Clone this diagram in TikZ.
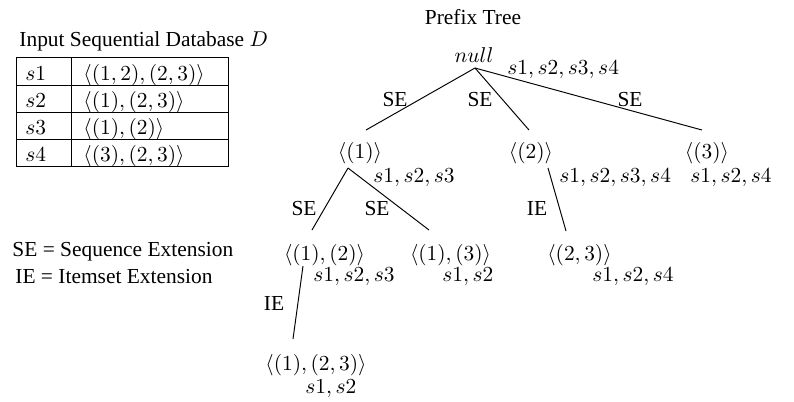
\documentclass[tikz,border=0pt]{standalone}
\usepackage[no-math]{fontspec}
\setmainfont{Liberation Serif}
\begin{document}
\begin{tikzpicture}[x=0.467pt,y=-0.467pt,
  lbl/.style={inner sep=0pt, anchor=base},
  lblw/.style={inner sep=0pt, anchor=base west},
  edge/.style={line width=0.45pt}]
\useasboundingbox (0,0) rectangle (794,401);
% ---- input table
\node[lblw] (title) at (19,46.7) {Input Sequential Database $D$};
\draw[edge] (16,57.7) rectangle (228,166.7);
\draw[edge] (16,85) -- (228,85) (16,112.3) -- (228,112.3) (16,139.5) -- (228,139.5);
\draw[edge] (71,57.7) -- (71,166.7);
\node[lblw] (r1a) at (25,80) {$s1$};
\node[lblw] (r1b) at (83,80) {$\langle(1,2),(2,3)\rangle$};
\node[lblw] (r2a) at (25,107.3) {$s2$};
\node[lblw] (r2b) at (83,107.3) {$\langle(1),(2,3)\rangle$};
\node[lblw] (r3a) at (25,134.6) {$s3$};
\node[lblw] (r3b) at (83,134.6) {$\langle(1),(2)\rangle$};
\node[lblw] (r4a) at (25,161.9) {$s4$};
\node[lblw] (r4b) at (83,161.9) {$\langle(3),(2,3)\rangle$};
% ---- legend
\node[lblw] (leg1) at (12,256) {SE = Sequence Extension};
\node[lblw] (leg2) at (15,283) {IE = Itemset Extension};
% ---- tree
\node[lbl] (pt) at (473,24) {Prefix Tree};
\node[lbl] (root) at (474,62) {$null$};
\node[lblw] (rootS) at (507,74) {$s1,s2,s3,s4$};
\node[lbl] (n1) at (360,158) {$\langle(1)\rangle$};
\node[lblw] (n1S) at (373,182) {$s1,s2,s3$};
\node[lbl] (n2) at (531,158) {$\langle(2)\rangle$};
\node[lblw] (n2S) at (559,182) {$s1,s2,s3,s4$};
\node[lbl] (n3) at (707,158) {$\langle(3)\rangle$};
\node[lblw] (n3S) at (690,182) {$s1,s2,s4$};
\node[lbl] (n11) at (324.5,260) {$\langle(1),(2)\rangle$};
\node[lblw] (n11S) at (313,281) {$s1,s2,s3$};
\node[lbl] (n12) at (450.5,260) {$\langle(1),(3)\rangle$};
\node[lblw] (n12S) at (442,281) {$s1,s2$};
\node[lbl] (n21) at (579.5,260) {$\langle(2,3)\rangle$};
\node[lblw] (n21S) at (592,281) {$s1,s2,s4$};
\node[lbl] (n111) at (316,370) {$\langle(1),(2,3)\rangle$};
\node[lblw] (n111S) at (305,393) {$s1,s2$};
% edge labels
\node[lbl] (e1) at (395,106) {SE};
\node[lbl] (e2) at (480,106) {SE};
\node[lbl] (e3) at (630,106) {SE};
\node[lbl] (e4) at (304,215) {SE};
\node[lbl] (e5) at (377,215) {SE};
\node[lbl] (e6) at (537,215) {IE};
\node[lbl] (e7) at (274,310) {IE};
% connector end points
\coordinate (rO) at (475,68);
\coordinate (n1I) at (366,130);
\coordinate (n2I) at (529,130);
\coordinate (n3I) at (702,130);
\coordinate (n1O) at (348,168);
\coordinate (n11I) at (312,230);
\coordinate (n12I) at (429,230);
\coordinate (n2O) at (548,168);
\coordinate (n21I) at (566,231);
\coordinate (n11O) at (303,266);
\coordinate (n111I) at (293,339);
\draw[edge] (rO) -- (n1I);
\draw[edge] (rO) -- (n2I);
\draw[edge] (rO) -- (n3I);
\draw[edge] (n1O) -- (n11I);
\draw[edge] (n1O) -- (n12I);
\draw[edge] (n2O) -- (n21I);
\draw[edge] (n11O) -- (n111I);
\end{tikzpicture}
\end{document}
